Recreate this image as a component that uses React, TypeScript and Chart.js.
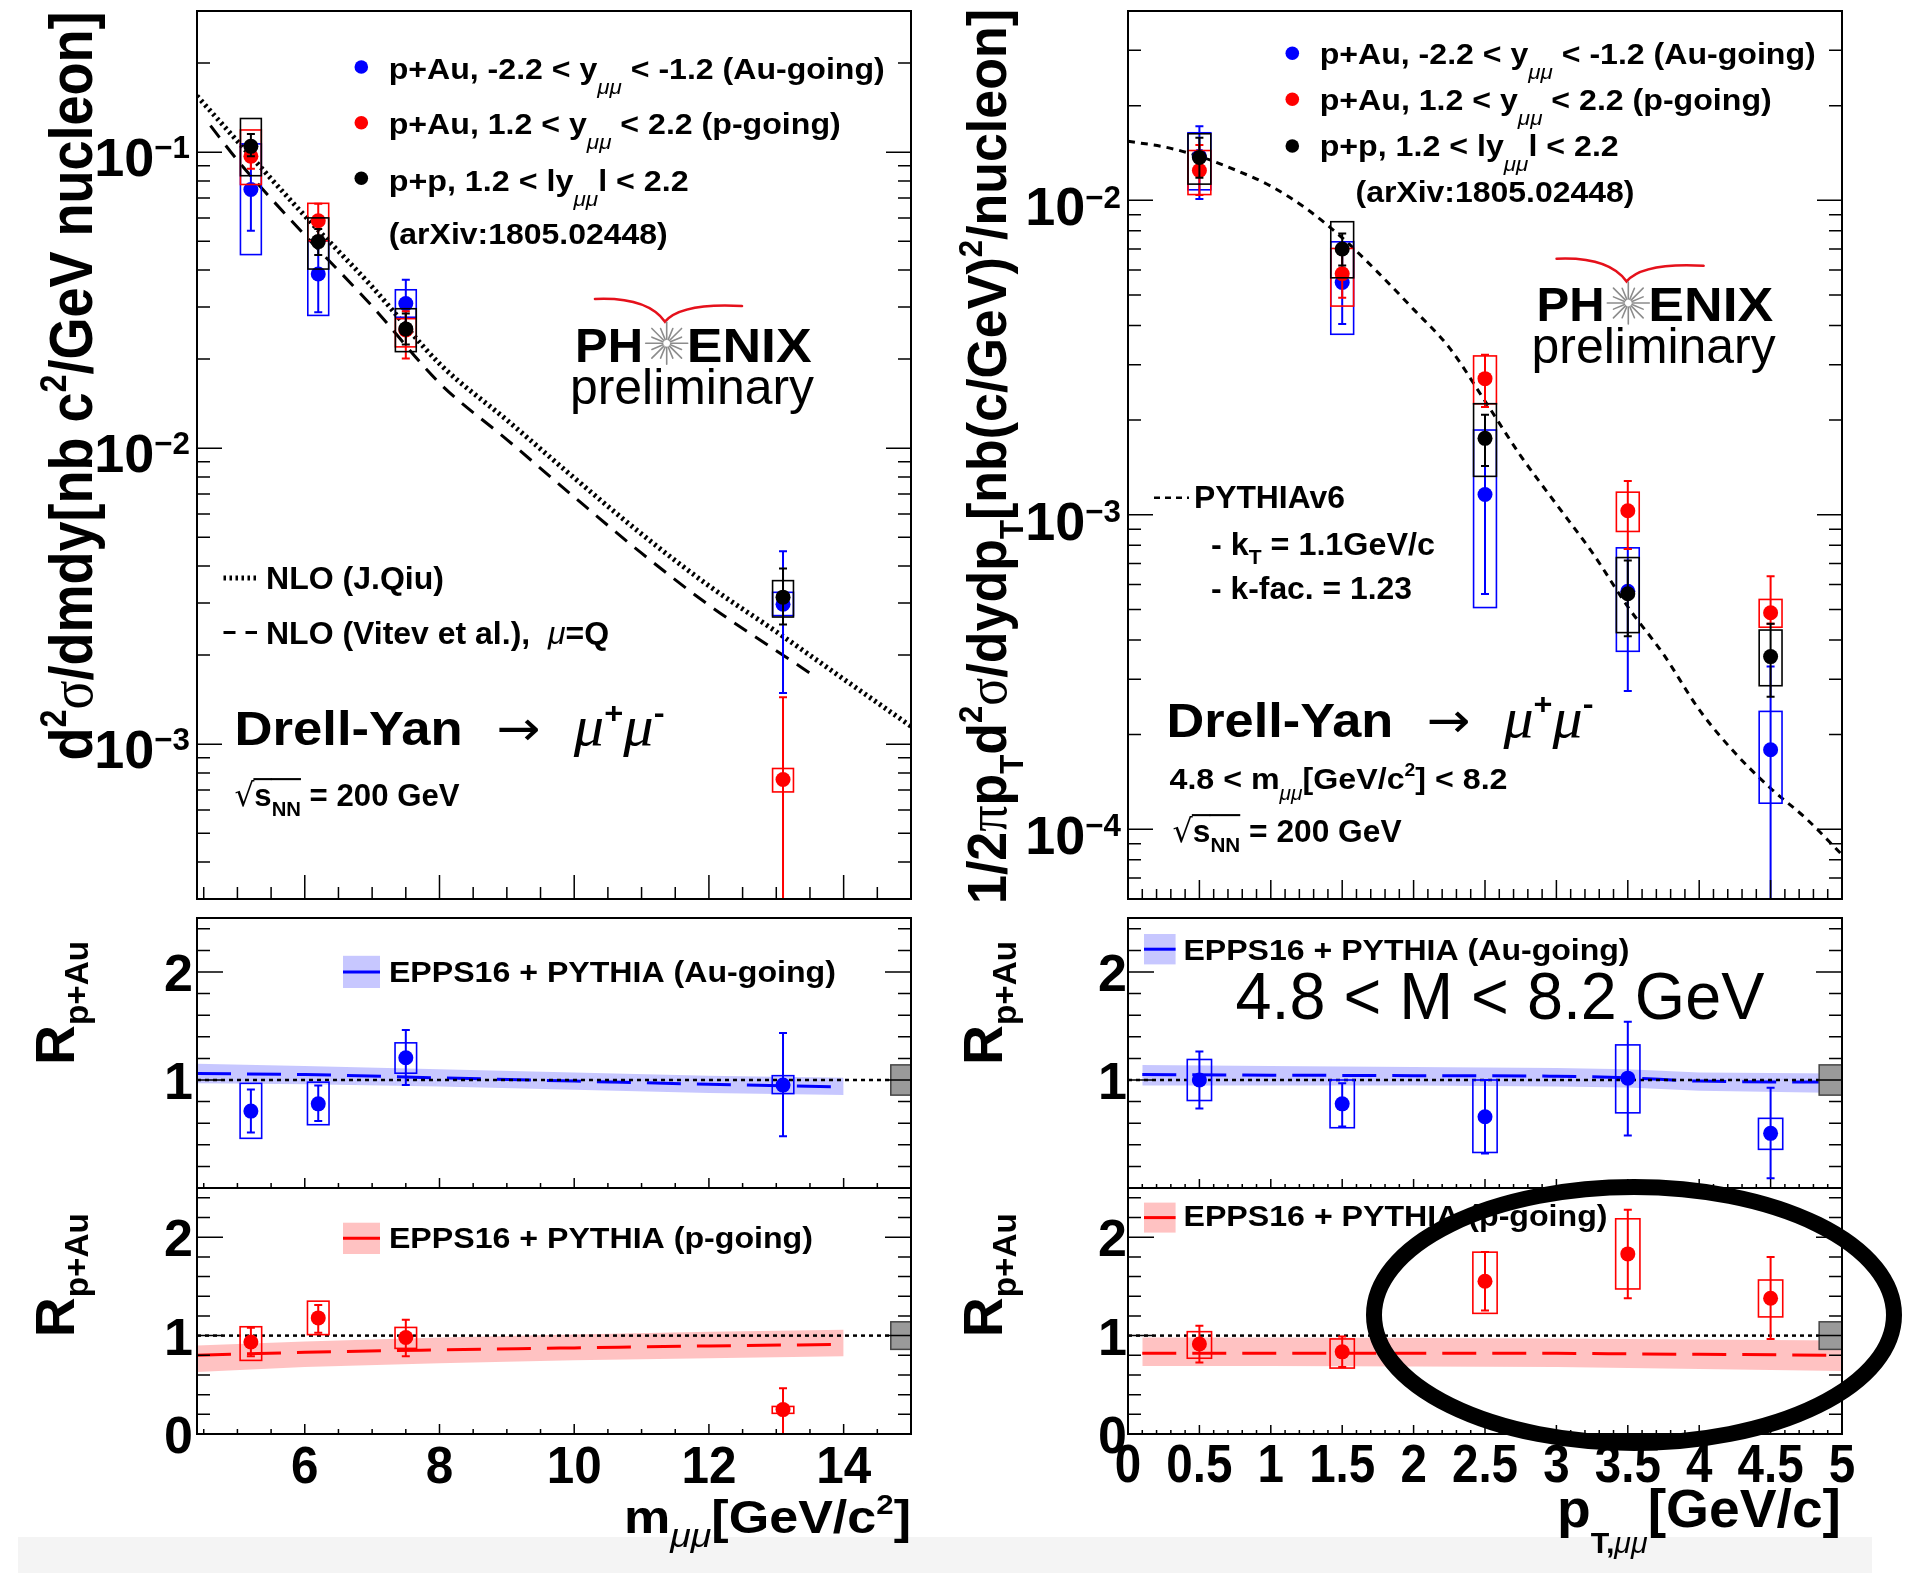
import React, { useEffect, useRef } from "react";
import { Chart, registerables } from "chart.js";
Chart.register(...registerables);

const W = 1906;
const H = 1573;
const SANS = '"Liberation Sans", Arial, Helvetica, sans-serif';
const SERIF = '"Liberation Serif", "DejaVu Serif", serif';
const DJV = '"DejaVu Sans", sans-serif';
const BLUE = "#0000ff";
const RED = "#ff0000";
const BLACK = "#000000";
const BLUE_BAND = "rgba(0,0,255,0.22)";
const RED_BAND = "rgba(255,0,0,0.24)";

// ---------------- data: invariant-mass spectra (top left) ----------------
const massX = [5.2, 6.2, 7.5, 13.1];
const auMassY = [0.0748, 0.0388, 0.0308, 0.00297];
const auMassStatLo = [0.0543, 0.0288, 0.025, 0.00149];
const auMassStatHi = [0.093, 0.048, 0.0371, 0.00449];
const auMassSysLo = [0.0451, 0.0281, 0.0277, 0.00272];
const auMassSysHi = [0.1067, 0.0502, 0.0343, 0.00326];

const pMassY = [0.0969, 0.0587, 0.0251, 0.00076];
const pMassStatLo = [0.088, 0.052, 0.0201, 0.00001];
const pMassStatHi = [0.108, 0.067, 0.029, 0.00144];
const pMassSysLo = [0.0778, 0.0502, 0.022, 0.00069];
const pMassSysHi = [0.1189, 0.0672, 0.0274, 0.000828];

const ppMassY = [0.1047, 0.0499, 0.0253, 0.00314];
const ppMassStatLo = [0.097, 0.045, 0.0224, 0.00254];
const ppMassStatHi = [0.1153, 0.055, 0.0285, 0.00392];
const ppMassSysLo = [0.0833, 0.0403, 0.0212, 0.00269];
const ppMassSysHi = [0.13, 0.06, 0.0296, 0.00357];

const qiuX = [4.4, 5, 6, 7, 8, 9, 10, 11, 12, 13, 14, 15];
const qiuY = [0.155, 0.109, 0.061, 0.0351, 0.0193, 0.01245, 0.00794, 0.00513, 0.00343, 0.0024, 0.00166, 0.00115];
const vitevX = [4.6, 5, 6, 7, 8, 9, 10, 11, 12, 13, 13.6];
const vitevY = [0.123, 0.094, 0.0525, 0.0302, 0.0166, 0.0107, 0.00684, 0.00442, 0.00295, 0.00207, 0.00168];

// ---------------- data: pT spectra (top right) ----------------
const ptX = [0.5, 1.5, 2.5, 3.5, 4.5];
const auPtY = [0.0138, 0.00548, 0.00116, 0.000571, 0.000179];
const auPtStatLo = [0.0101, 0.00404, 0.00056, 0.000275, 0.00001];
const auPtStatHi = [0.0172, 0.007, 0.00182, 0.00078, 0.000329];
const auPtSysLo = [0.0108, 0.00375, 0.000507, 0.000368, 0.000121];
const auPtSysHi = [0.0164, 0.00738, 0.00186, 0.000785, 0.000237];

const pPtY = [0.01244, 0.00584, 0.00271, 0.00103, 0.000488];
const pPtStatLo = [0.0104, 0.0049, 0.0022, 0.000778, 0.00045];
const pPtStatHi = [0.015, 0.0068, 0.00323, 0.00128, 0.000637];
const pPtSysLo = [0.01043, 0.00461, 0.002255, 0.000885, 0.000439];
const pPtSysHi = [0.0144, 0.00703, 0.0032, 0.00118, 0.000538];

const ppPtY = [0.01368, 0.007, 0.00175, 0.000561, 0.000354];
const ppPtStatLo = [0.0118, 0.0062, 0.00143, 0.000411, 0.000264];
const ppPtStatHi = [0.0158, 0.00785, 0.00208, 0.000716, 0.00045];
const ppPtSysLo = [0.01126, 0.00567, 0.001325, 0.000422, 0.000286];
const ppPtSysHi = [0.01628, 0.00855, 0.002255, 0.000731, 0.00043];

const pythiaX = [0, 0.25, 0.5, 0.75, 1.0, 1.25, 1.5, 1.75, 2.0, 2.25, 2.5, 2.75, 3.0, 3.25, 3.5, 3.75, 4.0, 4.25, 4.5, 4.75, 5.0];
const pythiaY = [0.0154, 0.0148, 0.0138, 0.0125, 0.0111, 0.0094, 0.0076, 0.0059, 0.0045, 0.0034, 0.0023, 0.00154, 0.00108, 0.00076, 0.00051, 0.00036, 0.00024, 0.000175, 0.000135, 0.000108, 0.000083];

// ---------------- data: R_pAu vs mass ----------------
const rAuMassY = [0.712, 0.779, 1.206, 0.953];
const rAuMassStatLo = [0.515, 0.62, 0.953, 0.479];
const rAuMassStatHi = [0.913, 0.95, 1.463, 1.436];
const rAuMassSysLo = [0.46, 0.586, 1.063, 0.874];
const rAuMassSysHi = [0.969, 0.98, 1.344, 1.04];

const rPMassY = [0.935, 1.18, 0.98, 0.248];
const rPMassStatLo = [0.79, 1.03, 0.79, 0.0];
const rPMassStatHi = [1.08, 1.31, 1.16, 0.465];
const rPMassSysLo = [0.748, 1.01, 0.87, 0.21];
const rPMassSysHi = [1.09, 1.35, 1.083, 0.28];

const massBandX = [4.4, 6, 8, 10, 12, 14];
const auMassBandMid = [1.06, 1.05, 1.02, 0.99, 0.96, 0.935];
const auMassBandHi = [1.15, 1.13, 1.1, 1.07, 1.04, 1.02];
const auMassBandLo = [0.97, 0.96, 0.94, 0.91, 0.88, 0.86];
const pMassBandMid = [0.8, 0.83, 0.855, 0.875, 0.895, 0.91];
const pMassBandHi = [0.9, 0.94, 0.98, 1.01, 1.04, 1.06];
const pMassBandLo = [0.63, 0.68, 0.72, 0.75, 0.77, 0.79];

// ---------------- data: R_pAu vs pT ----------------
const rAuPtY = [1.0, 0.779, 0.66, 1.017, 0.506];
const rAuPtStatLo = [0.736, 0.57, 0.32, 0.487, 0.091];
const rAuPtStatHi = [1.265, 0.97, 1.0, 1.54, 0.929];
const rAuPtSysLo = [0.81, 0.558, 0.329, 0.696, 0.358];
const rAuPtSysHi = [1.19, 1.0, 1.0, 1.325, 0.645];

const rPPtY = [0.914, 0.835, 1.552, 1.83, 1.38];
const rPPtStatLo = [0.726, 0.68, 1.256, 1.38, 0.966];
const rPPtStatHi = [1.1, 0.99, 1.85, 2.28, 1.8];
const rPPtSysLo = [0.77, 0.67, 1.226, 1.474, 1.19];
const rPPtSysHi = [1.04, 0.966, 1.848, 2.187, 1.565];

const ptBandX = [0.1, 1, 2, 3, 3.5, 4, 5];
const auPtBandMid = [1.05, 1.045, 1.04, 1.035, 1.02, 0.99, 0.98];
const auPtBandHi = [1.14, 1.13, 1.12, 1.11, 1.1, 1.07, 1.06];
const auPtBandLo = [0.95, 0.95, 0.95, 0.94, 0.93, 0.9, 0.88];
const pPtBandMid = [0.82, 0.82, 0.82, 0.82, 0.815, 0.81, 0.8];
const pPtBandHi = [0.98, 0.98, 0.975, 0.97, 0.965, 0.96, 0.95];
const pPtBandLo = [0.69, 0.69, 0.685, 0.68, 0.67, 0.66, 0.64];

const globalUnc = 0.14;

// ---------------- axes ----------------
const MASS_MIN = 4.4;
const MASS_MAX = 15;
const PT_MIN = 0;
const PT_MAX = 5;
const massSpecRange = [3e-4, 0.3];
const ptSpecRange = [6e-5, 0.04];
const rRange = [0, 2.5];

const massTicks = [6, 8, 10, 12, 14];
const massTickLabels = ["6", "8", "10", "12", "14"];
const ptTicks = [0, 0.5, 1, 1.5, 2, 2.5, 3, 3.5, 4, 4.5, 5];
const ptTickLabels = ["0", "0.5", "1", "1.5", "2", "2.5", "3", "3.5", "4", "4.5", "5"];
const massSpecTicks = [0.1, 0.01, 0.001];
const massSpecExp = ["\u22121", "\u22122", "\u22123"];
const ptSpecTicks = [0.01, 0.001, 0.0001];
const ptSpecExp = ["\u22122", "\u22123", "\u22124"];
const rTicks = [0, 1, 2];
const rTickLabels = ["0", "1", "2"];

// ---------------- helpers ----------------
type Seg = { t: string; s?: number; dy?: number; f?: string; w?: string; i?: boolean; ol?: boolean };
type RichOpt = { align?: "left" | "right" | "center"; rot?: boolean; width?: number; sx?: number; color?: string };

function rich(ctx: CanvasRenderingContext2D, segs: Seg[], x: number, y: number, size: number, o: RichOpt = {}) {
  ctx.save();
  const fonts = segs.map(
    (sg) => `${sg.i ? "italic " : ""}${sg.w ?? "bold"} ${(sg.s ?? 1) * size}px ${sg.f ?? SANS}`
  );
  const ws = segs.map((sg, k) => {
    ctx.font = fonts[k];
    return ctx.measureText(sg.t).width;
  });
  const total = ws.reduce((a, b) => a + b, 0);
  const k = o.width ? o.width / total : o.sx ?? 1;
  ctx.translate(x, y);
  if (o.rot) ctx.rotate(-Math.PI / 2);
  ctx.scale(k, 1);
  let cx = o.align === "right" ? -total : o.align === "center" ? -total / 2 : 0;
  ctx.fillStyle = o.color ?? "#000";
  ctx.strokeStyle = o.color ?? "#000";
  ctx.textAlign = "left";
  ctx.textBaseline = "alphabetic";
  segs.forEach((sg, j) => {
    ctx.font = fonts[j];
    const yy = (sg.dy ?? 0) * size;
    ctx.fillText(sg.t, cx, yy);
    if (sg.ol) {
      ctx.lineWidth = size * 0.065;
      ctx.beginPath();
      const oy = -size * 0.84;
      ctx.moveTo(cx - 1, oy);
      ctx.lineTo(cx + ws[j], oy);
      ctx.stroke();
    }
    cx += ws[j];
  });
  ctx.restore();
}

function linTicks(min: number, max: number, step: number): number[] {
  const out: number[] = [];
  const n0 = Math.ceil(min / step - 1e-9);
  const n1 = Math.floor(max / step + 1e-9);
  for (let n = n0; n <= n1; n++) out.push(+(n * step).toFixed(6));
  return out;
}
function logMinor(min: number, max: number): number[] {
  const out: number[] = [];
  for (let e = Math.floor(Math.log10(min)); e <= Math.ceil(Math.log10(max)); e++)
    for (let k = 2; k <= 9; k++) {
      const v = k * Math.pow(10, e);
      if (v >= min && v <= max) out.push(v);
    }
  return out;
}

const xy = (xs: number[], ys: number[]) => xs.map((x, i) => ({ x, y: ys[i] }));

function pointsDS(xs: number[], ys: number[], color: string, lo: number[], hi: number[], slo: number[], shi: number[], hw: number, order: number) {
  return {
    data: xy(xs, ys),
    showLine: false,
    pointRadius: 7.5,
    pointBackgroundColor: color,
    pointBorderColor: color,
    pointBorderWidth: 0,
    borderColor: color,
    backgroundColor: color,
    order,
    err: { lo, hi, slo, shi, hw, color },
  };
}
function curveDS(xs: number[], ys: number[], color: string, width: number, dash: number[], order: number) {
  return {
    data: xy(xs, ys),
    showLine: true,
    borderColor: color,
    borderWidth: width,
    borderDash: dash,
    pointRadius: 0,
    fill: false,
    order,
    cubicInterpolationMode: "monotone",
  };
}
function bandDS(xs: number[], hi: number[], lo: number[], color: string) {
  return [
    { data: xy(xs, hi), showLine: true, borderWidth: 0, borderColor: "rgba(0,0,0,0)", pointRadius: 0, fill: "+1", backgroundColor: color, order: 6 },
    { data: xy(xs, lo), showLine: true, borderWidth: 0, borderColor: "rgba(0,0,0,0)", pointRadius: 0, fill: false, order: 6 },
  ];
}

function drawErrors(chart: any, ds: any) {
  const e = ds.err;
  const { ctx, chartArea: a } = chart;
  const x = chart.scales.x;
  const y = chart.scales.y;
  ctx.save();
  ctx.beginPath();
  ctx.rect(a.left, a.top, a.right - a.left, a.bottom - a.top);
  ctx.clip();
  ctx.strokeStyle = e.color;
  ds.data.forEach((p: any, i: number) => {
    const px = x.getPixelForValue(p.x);
    const x0 = x.getPixelForValue(p.x - e.hw);
    const x1 = x.getPixelForValue(p.x + e.hw);
    const y0 = y.getPixelForValue(e.shi[i]);
    const y1 = y.getPixelForValue(e.slo[i]);
    ctx.lineWidth = 1.6;
    ctx.strokeRect(x0, y0, x1 - x0, y1 - y0);
    const s0 = y.getPixelForValue(e.hi[i]);
    const s1 = y.getPixelForValue(e.lo[i]);
    ctx.lineWidth = 2;
    ctx.beginPath();
    ctx.moveTo(px, s0);
    ctx.lineTo(px, s1);
    ctx.moveTo(px - 4, s0);
    ctx.lineTo(px + 4, s0);
    ctx.moveTo(px - 4, s1);
    ctx.lineTo(px + 4, s1);
    ctx.stroke();
  });
  ctx.restore();
}

type TickSpec = {
  xMajor: number[]; xMinor: number[]; xMaj: number; xMin: number;
  yMajor: number[]; yMinor: number[]; yMaj: number; yMin: number;
};
function drawAxes(chart: any, t: TickSpec) {
  const { ctx, chartArea: a } = chart;
  const x = chart.scales.x;
  const y = chart.scales.y;
  ctx.save();
  ctx.strokeStyle = "#000";
  ctx.lineWidth = 1.5;
  ctx.beginPath();
  const xt = (vals: number[], len: number) =>
    vals.forEach((v) => {
      const p = x.getPixelForValue(v);
      ctx.moveTo(p, a.bottom);
      ctx.lineTo(p, a.bottom - len);
    });
  const yt = (vals: number[], len: number) =>
    vals.forEach((v) => {
      const p = y.getPixelForValue(v);
      ctx.moveTo(a.left, p);
      ctx.lineTo(a.left + len, p);
      ctx.moveTo(a.right, p);
      ctx.lineTo(a.right - len, p);
    });
  xt(t.xMinor, t.xMin);
  xt(t.xMajor, t.xMaj);
  yt(t.yMinor, t.yMin);
  yt(t.yMajor, t.yMaj);
  ctx.stroke();
  ctx.lineWidth = 2;
  ctx.strokeRect(a.left, a.top, a.right - a.left, a.bottom - a.top);
  ctx.restore();
}

function dot(ctx: CanvasRenderingContext2D, x: number, y: number, color: string) {
  ctx.save();
  ctx.fillStyle = color;
  ctx.beginPath();
  ctx.arc(x, y, 6.8, 0, Math.PI * 2);
  ctx.fill();
  ctx.restore();
}
function sample(ctx: CanvasRenderingContext2D, x0: number, x1: number, y: number, width: number, dash: number[]) {
  ctx.save();
  ctx.strokeStyle = "#000";
  ctx.lineWidth = width;
  ctx.setLineDash(dash);
  ctx.beginPath();
  ctx.moveTo(x0, y);
  ctx.lineTo(x1, y);
  ctx.stroke();
  ctx.restore();
}
function bandSample(ctx: CanvasRenderingContext2D, x0: number, y0: number, x1: number, y1: number, fill: string, line: string) {
  ctx.save();
  ctx.fillStyle = fill;
  ctx.fillRect(x0, y0, x1 - x0, y1 - y0);
  ctx.strokeStyle = line;
  ctx.lineWidth = 3;
  ctx.beginPath();
  ctx.moveTo(x0, (y0 + y1) / 2);
  ctx.lineTo(x1, (y0 + y1) / 2);
  ctx.stroke();
  ctx.restore();
}
function drawLogo(ctx: CanvasRenderingContext2D, x0: number, y0: number) {
  ctx.save();
  ctx.strokeStyle = "#e5111b";
  ctx.lineWidth = 2.6;
  ctx.lineCap = "round";
  ctx.beginPath();
  ctx.moveTo(x0 + 20, y0 - 27.7);
  ctx.quadraticCurveTo(x0 + 72, y0 - 30, x0 + 90, y0 - 5);
  ctx.quadraticCurveTo(x0 + 106, y0 - 24, x0 + 167, y0 - 20.7);
  ctx.stroke();
  const cx = x0 + 91.7;
  const cy = y0 + 16.6;
  ctx.strokeStyle = "#8c8c8c";
  ctx.lineWidth = 1.6;
  for (let k = 0; k < 16; k++) {
    const an = (k * Math.PI) / 8;
    const r2 = k % 2 ? 16 : 21;
    ctx.beginPath();
    ctx.moveTo(cx + 4 * Math.cos(an), cy + 4 * Math.sin(an));
    ctx.lineTo(cx + r2 * Math.cos(an), cy + r2 * Math.sin(an));
    ctx.stroke();
  }
  ctx.restore();
  rich(ctx, [{ t: "PH" }], x0, y0 + 35, 49, { width: 68 });
  rich(ctx, [{ t: "ENIX" }], x0 + 111.7, y0 + 35, 49, { width: 125 });
  rich(ctx, [{ t: "preliminary", w: "normal" }], x0 - 5, y0 + 77, 50, { width: 244 });
}

const MU: Seg = { t: "\u03bc\u03bc", s: 0.7, dy: 0.5, i: true, w: "normal" };
const legendLines: Seg[][] = [
  [{ t: "p+Au, -2.2 < y" }, MU, { t: " < -1.2 (Au-going)" }],
  [{ t: "p+Au, 1.2 < y" }, MU, { t: " < 2.2 (p-going)" }],
  [{ t: "p+p, 1.2 < ly" }, MU, { t: "l < 2.2" }],
  [{ t: "(arXiv:1805.02448)" }],
];
const drellYan: Seg[] = [
  { t: "Drell-Yan" },
  { t: "  \u2192  ", f: DJV, w: "normal" },
  { t: "\u03bc", f: SERIF, i: true, w: "normal", s: 1.15 },
  { t: "+", s: 0.62, dy: -0.45, w: "bold" },
  { t: "\u03bc", f: SERIF, i: true, w: "normal", s: 1.15 },
  { t: "-", s: 0.62, dy: -0.45, w: "bold" },
];
const sqrtS: Seg[] = [
  { t: "\u221a", f: DJV, w: "normal" },
  { t: "s", ol: true },
  { t: "NN", s: 0.65, dy: 0.3, ol: true },
  { t: " = 200 GeV" },
];
const rTitle: Seg[] = [{ t: "R" }, { t: "p+Au", s: 0.6, dy: 0.26 }];

function rLabels(chart: any, xRight: number, withZero: boolean) {
  const y = chart.scales.y;
  rTicks.forEach((v, i) => {
    if (v === 0 && !withZero) return;
    rich(chart.ctx, [{ t: rTickLabels[i] }], xRight, y.getPixelForValue(v) + 19, 52, { align: "right" });
  });
}
function grayBox(chart: any, gw: number) {
  const { ctx } = chart;
  const x = chart.scales.x;
  const y = chart.scales.y;
  const x0 = x.getPixelForValue(x.max - gw);
  const x1 = x.getPixelForValue(x.max);
  const y0 = y.getPixelForValue(1 + globalUnc);
  const y1 = y.getPixelForValue(1 - globalUnc);
  ctx.save();
  ctx.fillStyle = "#9a9a9a";
  ctx.strokeStyle = "#444";
  ctx.lineWidth = 1.5;
  ctx.fillRect(x0, y0, x1 - x0, y1 - y0);
  ctx.strokeRect(x0, y0, x1 - x0, y1 - y0);
  ctx.restore();
}

// ---------------- panel specs ----------------
type Rect = { l: number; t: number; r: number; b: number };
type Spec = {
  rect: Rect;
  x: [number, number];
  y: { type: string; min: number; max: number };
  datasets: any[];
  ticks: TickSpec;
  afterData?: (c: any) => void;
  deco: (c: any) => void;
};

const massXTicksTop = { xMajor: massTicks, xMinor: linTicks(MASS_MIN, MASS_MAX, 0.5), xMaj: 24, xMin: 12 };
const massXTicksLow = { xMajor: massTicks, xMinor: linTicks(MASS_MIN, MASS_MAX, 0.5), xMaj: 10, xMin: 5 };
const ptXTicksTop = { xMajor: ptTicks, xMinor: linTicks(PT_MIN, PT_MAX, 0.1), xMaj: 19, xMin: 10 };
const ptXTicksLow = { xMajor: ptTicks, xMinor: linTicks(PT_MIN, PT_MAX, 0.1), xMaj: 9, xMin: 4 };
const rYTicks = { yMajor: rTicks, yMinor: linTicks(rRange[0], 2.4, 0.2), yMaj: 26, yMin: 13 };

function specTL(): Spec {
  return {
    rect: { l: 197, t: 11, r: 911, b: 899 },
    x: [MASS_MIN, MASS_MAX],
    y: { type: "logarithmic", min: massSpecRange[0], max: massSpecRange[1] },
    datasets: [
      pointsDS(massX, auMassY, BLUE, auMassStatLo, auMassStatHi, auMassSysLo, auMassSysHi, 0.155, 3),
      pointsDS(massX, pMassY, RED, pMassStatLo, pMassStatHi, pMassSysLo, pMassSysHi, 0.155, 2),
      pointsDS(massX, ppMassY, BLACK, ppMassStatLo, ppMassStatHi, ppMassSysLo, ppMassSysHi, 0.155, 1),
      curveDS(qiuX, qiuY, BLACK, 5, [2.5, 3.5], 5),
      curveDS(vitevX, vitevY, BLACK, 3, [15, 10], 4),
    ],
    ticks: { ...massXTicksTop, yMajor: massSpecTicks, yMinor: logMinor(massSpecRange[0], massSpecRange[1]), yMaj: 25, yMin: 13 },
    deco: (c) => {
      const ctx = c.ctx;
      const y = c.scales.y;
      rich(ctx, [{ t: "d" }, { t: "2", s: 0.6, dy: -0.42 }, { t: "\u03c3", f: SERIF, w: "normal" }, { t: "/dmdy[nb c" }, { t: "2", s: 0.6, dy: -0.42 }, { t: "/GeV nucleon]" }], 92, 11.5, 62, { rot: true, align: "right", width: 749 });
      massSpecTicks.forEach((v, i) =>
        rich(ctx, [{ t: "10" }, { t: massSpecExp[i], s: 0.58, dy: -0.33 }], 190, y.getPixelForValue(v) + 24, 54, { align: "right" })
      );
      const my = [67, 122.7, 178.3];
      [BLUE, RED, BLACK].forEach((col, i) => dot(ctx, 361.3, my[i], col));
      rich(ctx, legendLines[0], 388.7, 79.3, 30, { width: 496 });
      rich(ctx, legendLines[1], 388.7, 134.3, 30, { width: 452 });
      rich(ctx, legendLines[2], 388.7, 191, 30, { width: 300 });
      rich(ctx, legendLines[3], 388.7, 244.3, 30, { width: 279 });
      sample(ctx, 223.5, 257, 578, 5, [2.5, 3.5]);
      rich(ctx, [{ t: "NLO (J.Qiu)" }], 266, 588.6, 31, { width: 178 });
      sample(ctx, 223.5, 257, 632.6, 3, [12, 10]);
      rich(ctx, [{ t: "NLO (Vitev et al.),  " }, { t: "\u03bc", i: true, w: "normal" }, { t: "=Q" }], 266, 643.8, 31, { width: 343 });
      rich(ctx, drellYan, 234.5, 745, 49, { width: 430 });
      rich(ctx, sqrtS, 234.5, 806, 32, { width: 225 });
      drawLogo(ctx, 575, 326.7);
    },
  };
}

function specTR(): Spec {
  return {
    rect: { l: 1128, t: 11, r: 1842, b: 899 },
    x: [PT_MIN, PT_MAX],
    y: { type: "logarithmic", min: ptSpecRange[0], max: ptSpecRange[1] },
    datasets: [
      pointsDS(ptX, auPtY, BLUE, auPtStatLo, auPtStatHi, auPtSysLo, auPtSysHi, 0.08, 3),
      pointsDS(ptX, pPtY, RED, pPtStatLo, pPtStatHi, pPtSysLo, pPtSysHi, 0.08, 2),
      pointsDS(ptX, ppPtY, BLACK, ppPtStatLo, ppPtStatHi, ppPtSysLo, ppPtSysHi, 0.08, 1),
      curveDS(pythiaX, pythiaY, BLACK, 3, [7, 6], 4),
    ],
    ticks: { ...ptXTicksTop, yMajor: ptSpecTicks, yMinor: logMinor(ptSpecRange[0], ptSpecRange[1]), yMaj: 25, yMin: 13 },
    deco: (c) => {
      const ctx = c.ctx;
      const y = c.scales.y;
      rich(
        ctx,
        [
          { t: "1/2" }, { t: "\u03c0", f: SERIF, w: "normal" }, { t: "p" }, { t: "T", s: 0.6, dy: 0.3 },
          { t: "d" }, { t: "2", s: 0.6, dy: -0.42 }, { t: "\u03c3", f: SERIF, w: "normal" }, { t: "/dydp" },
          { t: "T", s: 0.6, dy: 0.3 }, { t: "[nb(c/GeV)" }, { t: "2", s: 0.6, dy: -0.42 }, { t: "/nucleon]" },
        ],
        1006, 9, 56, { rot: true, align: "right", width: 895 }
      );
      ptSpecTicks.forEach((v, i) =>
        rich(ctx, [{ t: "10" }, { t: ptSpecExp[i], s: 0.58, dy: -0.33 }], 1121, y.getPixelForValue(v) + 25, 54, { align: "right" })
      );
      const my = [53.3, 99.3, 146];
      [BLUE, RED, BLACK].forEach((col, i) => dot(ctx, 1292.3, my[i], col));
      rich(ctx, legendLines[0], 1319.7, 64, 30, { width: 496 });
      rich(ctx, legendLines[1], 1319.7, 110, 30, { width: 452 });
      rich(ctx, legendLines[2], 1319.7, 156, 30, { width: 299 });
      rich(ctx, legendLines[3], 1355.5, 201.5, 30, { width: 279 });
      sample(ctx, 1154, 1189, 497.7, 2.5, [6, 5]);
      rich(ctx, [{ t: "PYTHIAv6" }], 1193.9, 507.6, 31, { width: 151 });
      rich(ctx, [{ t: "- k" }, { t: "T", s: 0.65, dy: 0.3 }, { t: " = 1.1GeV/c" }], 1211, 554.6, 31, { width: 224 });
      rich(ctx, [{ t: "- k-fac. = 1.23" }], 1211, 598.6, 31, { width: 201 });
      rich(ctx, drellYan, 1166.5, 736.5, 49, { width: 427 });
      rich(ctx, [{ t: "4.8 < m" }, { t: "\u03bc\u03bc", s: 0.65, dy: 0.35, i: true, w: "normal" }, { t: "[GeV/c" }, { t: "2", s: 0.6, dy: -0.42 }, { t: "] < 8.2" }], 1169.5, 789, 30, { width: 338 });
      rich(ctx, sqrtS, 1172.6, 842, 32, { width: 229 });
      drawLogo(ctx, 1536.6, 286.4);
    },
  };
}

function refLine(x0: number, x1: number) {
  return { data: [{ x: x0, y: 1 }, { x: x1, y: 1 }], showLine: true, borderColor: BLACK, borderWidth: 2.5, borderDash: [4, 4], pointRadius: 0, fill: false, order: 3 };
}

function specML(): Spec {
  return {
    rect: { l: 197, t: 918, r: 911, b: 1188 },
    x: [MASS_MIN, MASS_MAX],
    y: { type: "linear", min: rRange[0], max: rRange[1] },
    datasets: [
      pointsDS(massX, rAuMassY, BLUE, rAuMassStatLo, rAuMassStatHi, rAuMassSysLo, rAuMassSysHi, 0.16, 1),
      refLine(MASS_MIN, MASS_MAX),
      curveDS(massBandX, auMassBandMid, BLUE, 3, [34, 16], 4),
      ...bandDS(massBandX, auMassBandHi, auMassBandLo, BLUE_BAND),
    ],
    ticks: { ...massXTicksLow, ...rYTicks },
    afterData: (c) => grayBox(c, 0.3),
    deco: (c) => {
      const ctx = c.ctx;
      rich(ctx, rTitle, 73.5, 941, 55, { rot: true, align: "right", width: 124 });
      rLabels(c, 193, false);
      bandSample(ctx, 343, 955.8, 380, 988, BLUE_BAND, BLUE);
      rich(ctx, [{ t: "EPPS16 + PYTHIA (Au-going)" }], 388.9, 981.5, 30, { width: 447 });
    },
  };
}

function specBL(): Spec {
  return {
    rect: { l: 197, t: 1188, r: 911, b: 1434 },
    x: [MASS_MIN, MASS_MAX],
    y: { type: "linear", min: rRange[0], max: rRange[1] },
    datasets: [
      pointsDS(massX, rPMassY, RED, rPMassStatLo, rPMassStatHi, rPMassSysLo, rPMassSysHi, 0.16, 1),
      refLine(MASS_MIN, MASS_MAX),
      curveDS(massBandX, pMassBandMid, RED, 3, [34, 16], 4),
      ...bandDS(massBandX, pMassBandHi, pMassBandLo, RED_BAND),
    ],
    ticks: { ...massXTicksLow, ...rYTicks },
    afterData: (c) => grayBox(c, 0.3),
    deco: (c) => {
      const ctx = c.ctx;
      const x = c.scales.x;
      rich(ctx, rTitle, 73.5, 1213.3, 55, { rot: true, align: "right", width: 124 });
      rLabels(c, 193, true);
      bandSample(ctx, 343, 1222.7, 380, 1254, RED_BAND, RED);
      rich(ctx, [{ t: "EPPS16 + PYTHIA (p-going)" }], 388.9, 1247.6, 30, { width: 424 });
      massTicks.forEach((v, i) => rich(ctx, [{ t: massTickLabels[i] }], x.getPixelForValue(v), 1483, 52, { align: "center", sx: 0.95 }));
      rich(ctx, [{ t: "m" }, { t: "\u03bc\u03bc", s: 0.72, dy: 0.3, i: true, w: "normal" }, { t: "[GeV/c" }, { t: "2", s: 0.6, dy: -0.42 }, { t: "]" }], 911, 1533, 46, { align: "right", width: 287 });
    },
  };
}

function specMR(): Spec {
  return {
    rect: { l: 1128, t: 918, r: 1842, b: 1188 },
    x: [PT_MIN, PT_MAX],
    y: { type: "linear", min: rRange[0], max: rRange[1] },
    datasets: [
      pointsDS(ptX, rAuPtY, BLUE, rAuPtStatLo, rAuPtStatHi, rAuPtSysLo, rAuPtSysHi, 0.085, 1),
      refLine(PT_MIN, PT_MAX),
      curveDS(ptBandX, auPtBandMid, BLUE, 3, [34, 16], 4),
      ...bandDS(ptBandX, auPtBandHi, auPtBandLo, BLUE_BAND),
    ],
    ticks: { ...ptXTicksLow, ...rYTicks },
    afterData: (c) => grayBox(c, 0.16),
    deco: (c) => {
      const ctx = c.ctx;
      rich(ctx, rTitle, 1002, 941, 55, { rot: true, align: "right", width: 124 });
      rLabels(c, 1127, false);
      bandSample(ctx, 1144, 934, 1175.6, 964.4, BLUE_BAND, BLUE);
      rich(ctx, [{ t: "EPPS16 + PYTHIA (Au-going)" }], 1183.5, 960, 30, { width: 446 });
      rich(ctx, [{ t: "4.8 < M < 8.2 GeV", w: "normal" }], 1235.4, 1019, 67, { width: 529 });
    },
  };
}

function specBR(): Spec {
  return {
    rect: { l: 1128, t: 1188, r: 1842, b: 1434 },
    x: [PT_MIN, PT_MAX],
    y: { type: "linear", min: rRange[0], max: rRange[1] },
    datasets: [
      pointsDS(ptX, rPPtY, RED, rPPtStatLo, rPPtStatHi, rPPtSysLo, rPPtSysHi, 0.085, 1),
      refLine(PT_MIN, PT_MAX),
      curveDS(ptBandX, pPtBandMid, RED, 3, [34, 16], 4),
      ...bandDS(ptBandX, pPtBandHi, pPtBandLo, RED_BAND),
    ],
    ticks: { ...ptXTicksLow, ...rYTicks },
    afterData: (c) => grayBox(c, 0.16),
    deco: (c) => {
      const ctx = c.ctx;
      const x = c.scales.x;
      rich(ctx, rTitle, 1002, 1213.3, 55, { rot: true, align: "right", width: 124 });
      rLabels(c, 1127, true);
      bandSample(ctx, 1144, 1202.6, 1175.6, 1232.6, RED_BAND, RED);
      rich(ctx, [{ t: "EPPS16 + PYTHIA (p-going)" }], 1183.5, 1226, 30, { width: 424 });
      ptTicks.forEach((v, i) => rich(ctx, [{ t: ptTickLabels[i] }], x.getPixelForValue(v), 1482, 54, { align: "center", sx: 0.88 }));
      rich(ctx, [{ t: "p" }, { t: "T,", s: 0.55, dy: 0.48 }, { t: "\u03bc\u03bc", s: 0.55, dy: 0.48, i: true, w: "normal" }, { t: "[GeV/c]" }], 1841, 1527, 54, { align: "right", width: 284 });
      // hand-drawn annotation ellipse
      ctx.save();
      ctx.strokeStyle = "#000";
      ctx.lineWidth = 16;
      ctx.beginPath();
      ctx.ellipse(1634, 1315, 260, 128, 0, 0, Math.PI * 2);
      ctx.stroke();
      ctx.restore();
    },
  };
}

function buildConfig(spec: Spec): any {
  return {
    type: "line",
    data: { datasets: spec.datasets },
    options: {
      responsive: false,
      maintainAspectRatio: false,
      animation: false,
      devicePixelRatio: 1,
      events: [],
      layout: { padding: { left: spec.rect.l, top: spec.rect.t, right: W - spec.rect.r, bottom: H - spec.rect.b } },
      plugins: { legend: { display: false }, tooltip: { enabled: false }, title: { display: false } },
      scales: {
        x: { type: "linear", min: spec.x[0], max: spec.x[1], display: false },
        y: { type: spec.y.type, min: spec.y.min, max: spec.y.max, display: false },
      },
      elements: { line: { tension: 0 } },
    },
    plugins: [
      {
        id: "deco",
        beforeDatasetDraw(chart: any, args: any) {
          const ds = chart.data.datasets[args.index];
          if (ds && ds.err) drawErrors(chart, ds);
        },
        afterDatasetsDraw(chart: any) {
          if (spec.afterData) spec.afterData(chart);
        },
        afterDraw(chart: any) {
          drawAxes(chart, spec.ticks);
          spec.deco(chart);
        },
      },
    ],
  };
}

function PanelCanvas({ make }: { make: () => Spec }) {
  const ref = useRef<HTMLCanvasElement>(null);
  useEffect(() => {
    const chart = new Chart(ref.current as HTMLCanvasElement, buildConfig(make()));
    return () => chart.destroy();
  }, []);
  return (
    <canvas
      ref={ref}
      width={W}
      height={H}
      style={{ position: "absolute", left: 0, top: 0, width: W, height: H }}
    />
  );
}

const PANELS = [specTL, specTR, specML, specMR, specBL, specBR];

export default function App() {
  return (
    <div style={{ position: "fixed", left: 0, top: 0, width: W, height: H, background: "#ffffff", overflow: "hidden" }}>
      <div style={{ position: "absolute", left: 18, top: 1537, width: 1854, height: 36, background: "#f4f4f4" }} />
      {PANELS.map((m, i) => (
        <PanelCanvas key={i} make={m} />
      ))}
    </div>
  );
}
